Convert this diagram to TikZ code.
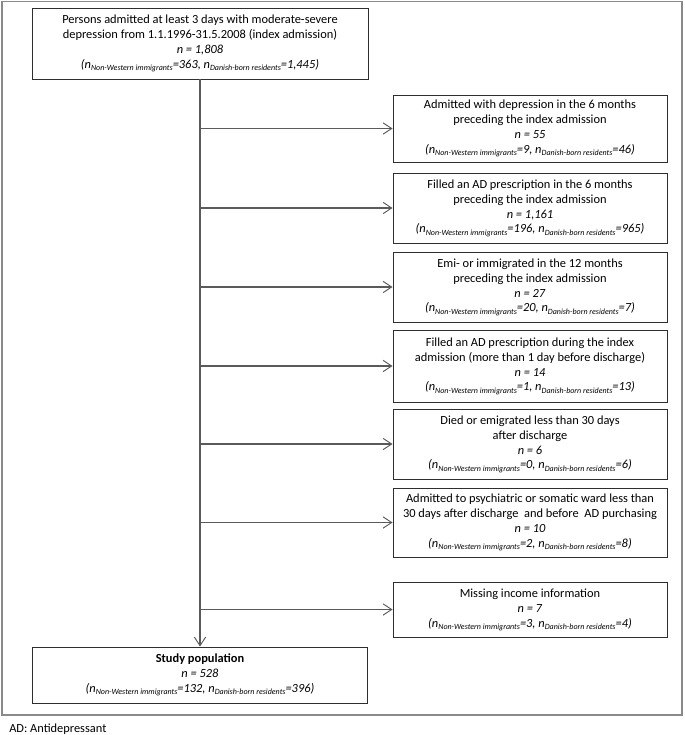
\documentclass[tikz,border=0pt]{standalone}
\usepackage{fontspec}
\setmainfont{Carlito}
\usetikzlibrary{arrows.meta}
\definecolor{boxc}{HTML}{2E2E2E}
\definecolor{linec}{HTML}{5A5A5A}
\definecolor{framec}{HTML}{8A8A8A}
\newcommand{\sbs}[1]{\raisebox{-0.35ex}{\fontsize{6pt}{7pt}\selectfont #1}}
\newcommand{\cnt}[2]{\textit{(n\sbs{Non-Western immigrants}=#1, n\sbs{Danish-born residents}=#2)}}
\begin{document}
\begin{tikzpicture}[x=0.75pt,y=-0.75pt,
  box/.style={draw=boxc,line width=0.7pt,align=center,inner sep=0pt,
    font=\fontsize{9.3pt}{11.2pt}\selectfont},
  rbox/.style={box,minimum width=274*0.75pt},
  conn/.style={draw=linec,line width=0.8pt},
  arr/.style={conn,-{Straight Barb[length=6.5pt,width=8.5pt,line width=0.7pt]}}]
\useasboundingbox (0,0) rectangle (685,735);
\draw[framec,line width=1.3pt] (2,1.5) rectangle (682,715);

\node[box,minimum width=336*0.75pt,minimum height=71*0.75pt] (top) at (200,43.5)
 {Persons admitted at least 3 days with moderate-severe\\
  depression from 1.1.1996-31.5.2008 (index admission)\\
  \textit{n = 1,808}\\ \cnt{363}{1,445}};

\node[rbox,minimum height=67*0.75pt] (b1) at (530,128.5)
 {Admitted with depression in the 6 months\\ preceding the index admission\\
  \textit{n = 55}\\ \cnt{9}{46}};
\node[rbox,minimum height=70*0.75pt] (b2) at (530,208)
 {Filled an AD prescription in the 6 months\\ preceding the index admission\\
  \textit{n = 1,161}\\ \cnt{196}{965}};
\node[rbox,minimum height=70*0.75pt] (b3) at (530,287)
 {Emi- or immigrated in the 12 months\\ preceding the index admission\\
  \textit{n = 27}\\ \cnt{20}{7}};
\node[rbox,minimum height=72*0.75pt] (b4) at (530,366)
 {Filled an AD prescription during the index\\ admission (more than 1 day before discharge)\\
  \textit{n = 14}\\ \cnt{1}{13}};
\node[rbox,minimum height=70*0.75pt] (b5) at (530,444)
 {Died or emigrated less than 30 days\\ after discharge\\
  \textit{n = 6}\\ \cnt{0}{6}};
\node[rbox,minimum height=69*0.75pt] (b6) at (530,522.5)
 {Admitted to psychiatric or somatic ward less than\\ 30 days after discharge\ \ and before\ \ AD purchasing\\
  \textit{n = 10}\\ \cnt{2}{8}};
\node[rbox,minimum height=55*0.75pt] (b7) at (530,609.5)
 {Missing income information\\
  \textit{n = 7}\\ \cnt{3}{4}};

\node[box,minimum width=335*0.75pt,minimum height=56*0.75pt] (study) at (200,675)
 {\textbf{Study population}\\
  \textit{n = 528}\\ \cnt{132}{396}};

\draw[arr] (top.south) -- (study.north);
\foreach \b in {b1,b2,b3,b4,b5,b6,b7}
  \draw[arr] (\b.west -| top.south) -- (\b.west);

\node[anchor=west,inner sep=0pt,font=\fontsize{9.3pt}{11.2pt}\selectfont] (note) at (9,729) {AD: Antidepressant};
\end{tikzpicture}
\end{document}
